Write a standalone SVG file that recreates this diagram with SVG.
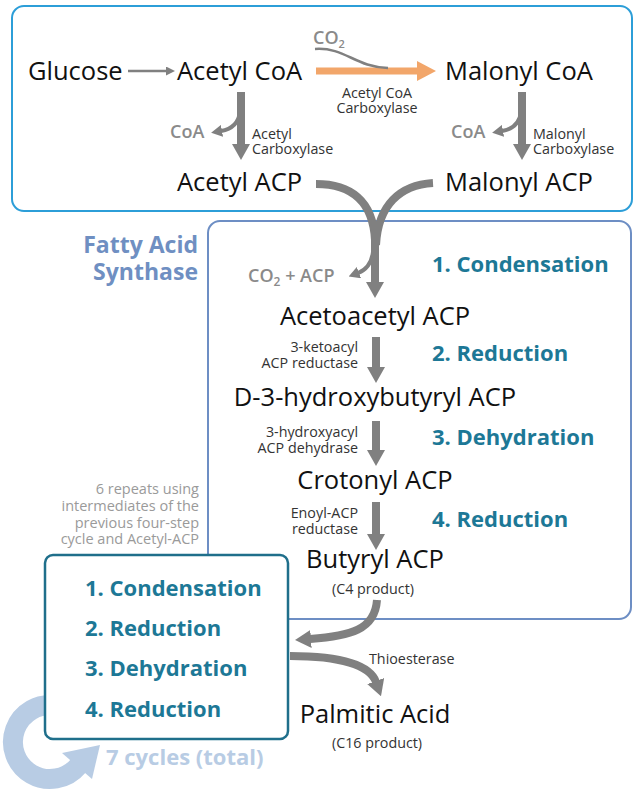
<svg xmlns="http://www.w3.org/2000/svg" width="638" height="793" viewBox="0 0 638 793">
<defs>
<style>
text{font-family:"Open Sans","Noto Sans","Liberation Sans",sans-serif}
.big{font-size:25.5px;fill:#111}
.enz{font-size:14.3px;fill:#333}
.gr{font-size:18px;font-weight:600;fill:#8a8a8a}
.step{font-size:22px;font-weight:700;fill:#1d7896}
.note{font-size:14.5px;fill:#9a9a9a}
.conn{fill:none;stroke:#808080;stroke-linecap:butt}
.thick{stroke-width:8;marker-end:url(#ah)}
.thin{stroke-width:4;marker-end:url(#ahs)}
</style>
<marker id="ah" viewBox="0 0 16 18" refX="1" refY="9" markerWidth="16" markerHeight="18" markerUnits="userSpaceOnUse" orient="auto"><path d="M0,0 L16,9 L0,18 z" fill="#808080"/></marker>
<marker id="ahs" viewBox="0 0 11 12" refX="1" refY="6" markerWidth="11" markerHeight="12" markerUnits="userSpaceOnUse" orient="auto"><path d="M0,0 L11,6 L0,12 z" fill="#808080"/></marker>
<marker id="aht" viewBox="0 0 9 9" refX="1" refY="4.5" markerWidth="9" markerHeight="9" markerUnits="userSpaceOnUse" orient="auto"><path d="M0,0 L9,4.5 L0,9 z" fill="#808080"/></marker>
<marker id="aho" viewBox="0 0 19 20" refX="1" refY="10" markerWidth="19" markerHeight="20" markerUnits="userSpaceOnUse" orient="auto"><path d="M0,0 L19,10 L0,20 z" fill="#f2a66a"/></marker>
</defs>

<g id="cytosol-box"><rect x="12" y="6" width="620" height="205" rx="12" fill="none" stroke="#2c9ed8" stroke-width="2"/></g>
<g id="fas-box"><rect x="208" y="221" width="423" height="398" rx="12" fill="none" stroke="#6d8ec4" stroke-width="2"/></g>

<g id="cycle-arrow">
<path d="M 56.4 705.6 A 37 37 0 1 0 78.3 765.8" fill="none" stroke="#b8cce4" stroke-width="20"/>
<polygon points="100,745 92,779 62,753" fill="#b8cce4"/>
</g>

<g id="cycle-box"><rect x="45" y="555" width="243" height="184" rx="8" fill="#fff" stroke="#1f6f8b" stroke-width="2.5"/>
<text class="step" x="85" y="596">1. Condensation</text>
<text class="step" x="85" y="636">2. Reduction</text>
<text class="step" x="85" y="676">3. Dehydration</text>
<text class="step" x="85" y="717">4. Reduction</text>
</g>

<g id="connectors">
<path class="conn" d="M 128 71 L 167 71" stroke-width="2.5" marker-end="url(#aht)"/>
<path d="M 316 71 L 418 71" fill="none" stroke="#f2a66a" stroke-width="7" marker-end="url(#aho)"/>
<path class="conn" d="M 315 49 C 345 47, 355 67, 388 68" stroke-width="2.5"/>
<path class="conn thick" d="M 241 92 L 241 145"/>
<path class="conn thin" d="M 240 112 Q 238 128 221 131"/>
<path class="conn thick" d="M 522 92 L 522 145"/>
<path class="conn thin" d="M 521 112 Q 519 128 502 131"/>
<path class="conn" d="M 316 184 C 350 184, 373 200, 375 240 L 375 283" stroke-width="8" marker-end="url(#ah)"/>
<path class="conn" d="M 433 183 C 400 185, 378 205, 376 245" stroke-width="8"/>
<path class="conn thin" d="M 373 252 Q 371 268 358 273"/>
<path class="conn thick" d="M 376 337 L 376 368"/>
<path class="conn thick" d="M 376 421 L 376 451"/>
<path class="conn thick" d="M 376 502 L 376 535"/>
<path class="conn" d="M 377 600 C 375 630, 350 636, 310 639" stroke-width="8" marker-end="url(#ah)"/>
<path class="conn" d="M 290 656 C 340 656, 370 665, 376 682" stroke-width="8" marker-end="url(#ah)"/>
</g>

<g id="glucose"><text class="big" x="28" y="80">Glucose</text></g>
<g id="acetyl-coa"><text class="big" x="177" y="80">Acetyl CoA</text></g>
<g id="malonyl-coa"><text class="big" x="445" y="80">Malonyl CoA</text></g>
<g id="acetyl-acp"><text class="big" x="177" y="191">Acetyl ACP</text></g>
<g id="malonyl-acp"><text class="big" x="445" y="191">Malonyl ACP</text></g>

<g id="labels-top">
<text class="gr" x="313" y="44" font-size="16.5">CO<tspan font-size="11" dy="4">2</tspan></text>
<text class="enz" text-anchor="middle"><tspan x="377" y="98">Acetyl CoA</tspan><tspan x="377" y="113">Carboxylase</tspan></text>
<text class="gr" x="170" y="138">CoA</text>
<text class="enz"><tspan x="252" y="139">Acetyl</tspan><tspan x="252" y="154">Carboxylase</tspan></text>
<text class="gr" x="451" y="138">CoA</text>
<text class="enz"><tspan x="533" y="139">Malonyl</tspan><tspan x="533" y="154">Carboxylase</tspan></text>
</g>

<g id="fas-label">
<text text-anchor="end" font-size="23" font-weight="700" fill="#6f8fc2"><tspan x="198" y="253">Fatty Acid</tspan><tspan x="198" y="280">Synthase</tspan></text>
</g>

<g id="acetoacetyl-acp"><text class="big" x="375" y="325" text-anchor="middle">Acetoacetyl ACP</text></g>
<g id="hydroxybutyryl-acp"><text class="big" x="375" y="406" text-anchor="middle">D-3-hydroxybutyryl ACP</text></g>
<g id="crotonyl-acp"><text class="big" x="375" y="489" text-anchor="middle">Crotonyl ACP</text></g>
<g id="butyryl-acp"><text class="big" x="375" y="568" text-anchor="middle">Butyryl ACP</text>
<text class="enz" x="373" y="594" text-anchor="middle" font-size="15">(C4 product)</text></g>
<g id="palmitic-acid"><text class="big" x="375" y="723" text-anchor="middle">Palmitic Acid</text>
<text class="enz" x="377" y="748" text-anchor="middle" font-size="15">(C16 product)</text></g>

<g id="labels-fas">
<text class="gr" x="248" y="282" font-size="18.5">CO<tspan font-size="12" dy="4">2</tspan><tspan dy="-4"> + ACP</tspan></text>
<text class="step" x="432" y="272">1. Condensation</text>
<text class="step" x="432" y="361">2. Reduction</text>
<text class="step" x="432" y="445">3. Dehydration</text>
<text class="step" x="432" y="527">4. Reduction</text>
<text class="enz" text-anchor="end"><tspan x="358" y="352">3-ketoacyl</tspan><tspan x="358" y="368">ACP reductase</tspan></text>
<text class="enz" text-anchor="end"><tspan x="358" y="437">3-hydroxyacyl</tspan><tspan x="358" y="453">ACP dehydrase</tspan></text>
<text class="enz" text-anchor="end"><tspan x="358" y="518">Enoyl-ACP</tspan><tspan x="358" y="534">reductase</tspan></text>
<text class="enz" x="369" y="664" font-size="14.5">Thioesterase</text>
</g>

<g id="note">
<text class="note" text-anchor="end"><tspan x="199" y="494">6 repeats using</tspan><tspan x="199" y="511">intermediates of the</tspan><tspan x="199" y="528">previous four-step</tspan><tspan x="199" y="544">cycle and Acetyl-ACP</tspan></text>
<text x="106" y="765" font-size="22" font-weight="700" fill="#b8cce4">7 cycles (total)</text>
</g>
</svg>
